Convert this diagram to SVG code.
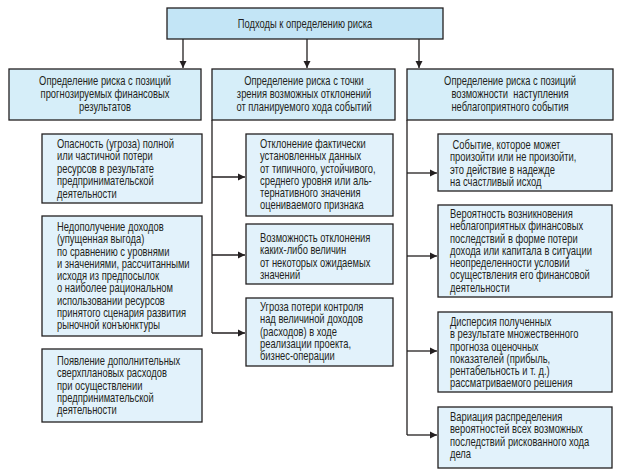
<svg xmlns="http://www.w3.org/2000/svg" width="618" height="473" viewBox="0 0 618 473">
<defs>
<marker id="ah" markerWidth="8" markerHeight="8" refX="7" refY="4" orient="auto" markerUnits="userSpaceOnUse">
<path d="M0,0.5 L7,4 L0,7.5 Z" fill="#231f20"/>
</marker>
</defs>
<style>
.bg{fill:#ffffff}
.top{fill:#c3e5f6;stroke:#231f20;stroke-width:1.3}
.l1{fill:#d6eef9;stroke:#231f20;stroke-width:1.3}
.ch{fill:#e2f2fb;stroke:#231f20;stroke-width:1.3}
text{font-family:"Liberation Sans",Arial,sans-serif;font-size:12.5px;fill:#231f20}
.c{text-anchor:middle}
.con{fill:none;stroke:#231f20;stroke-width:1.3}
</style>
<rect class="bg" x="0" y="0" width="618" height="473"/>
<g id="connectors">
<path class="con" d="M183,39 V68" marker-end="url(#ah)"/>
<path class="con" d="M307,39 V68" marker-end="url(#ah)"/>
<path class="con" d="M419,39 V68" marker-end="url(#ah)"/>
<path class="con" d="M212,120 V333"/>
<path class="con" d="M212,177 H245" marker-end="url(#ah)"/>
<path class="con" d="M212,255 H245" marker-end="url(#ah)"/>
<path class="con" d="M212,333 H245" marker-end="url(#ah)"/>
<path class="con" d="M407,120 V435"/>
<path class="con" d="M407,173 H437" marker-end="url(#ah)"/>
<path class="con" d="M407,256 H437" marker-end="url(#ah)"/>
<path class="con" d="M407,351 H437" marker-end="url(#ah)"/>
<path class="con" d="M407,435 H437" marker-end="url(#ah)"/>
</g>
<g id="root">
<rect class="top" x="167" y="8" width="276" height="31"/>
<g transform="translate(305,0) scale(0.75,1)"><text class="c" x="0" y="28">Подходы к определению риска</text></g>
</g>
<g id="a1">
<rect class="l1" x="9" y="69" width="192" height="51"/>
<g transform="translate(105,0) scale(0.75,1)">
<text class="c" x="0" y="85">Определение риска с позиций</text>
<text class="c" x="0" y="98">прогнозируемых финансовых</text>
<text class="c" x="0" y="111">результатов</text>
</g>
</g>
<g id="a2">
<rect class="l1" x="212" y="69" width="183" height="51"/>
<g transform="translate(304,0) scale(0.75,1)">
<text class="c" x="0" y="85">Определение риска с точки</text>
<text class="c" x="0" y="98">зрения возможных отклонений</text>
<text class="c" x="0" y="111">от планируемого хода событий</text>
</g>
</g>
<g id="a3">
<rect class="l1" x="407" y="69" width="206" height="51"/>
<g transform="translate(510,0) scale(0.75,1)">
<text class="c" x="0" y="85">Определение риска с позиций</text>
<text class="c" x="0" y="98" xml:space="preserve">возможности  наступления</text>
<text class="c" x="0" y="111">неблагоприятного события</text>
</g>
</g>
<g id="l1">
<rect class="ch" x="42" y="134" width="160" height="69"/>
<g transform="translate(57,0) scale(0.75,1)">
<text x="0" y="148">Опасность (угроза) полной</text>
<text x="0" y="160.5">или частичной потери</text>
<text x="0" y="173">ресурсов в результате</text>
<text x="0" y="185.5">предпринимательской</text>
<text x="0" y="198">деятельности</text>
</g>
</g>
<g id="l2">
<rect class="ch" x="42" y="216" width="160" height="120"/>
<g transform="translate(57,0) scale(0.75,1)">
<text x="0" y="231">Недополучение доходов</text>
<text x="0" y="243.3">(упущенная выгода)</text>
<text x="0" y="255.6">по сравнению с уровнями</text>
<text x="0" y="267.9">и значениями, рассчитанными</text>
<text x="0" y="280.2">исходя из предпосылок</text>
<text x="0" y="292.5">о наиболее рациональном</text>
<text x="0" y="304.8">использовании ресурсов</text>
<text x="0" y="317.1">принятого сценария развития</text>
<text x="0" y="329.4">рыночной конъюнктуры</text>
</g>
</g>
<g id="l3">
<rect class="ch" x="42" y="349" width="160" height="73"/>
<g transform="translate(57,0) scale(0.75,1)">
<text x="0" y="365">Появление дополнительных</text>
<text x="0" y="377.3">сверхплановых расходов</text>
<text x="0" y="389.6">при осуществлении</text>
<text x="0" y="401.9">предпринимательской</text>
<text x="0" y="414.2">деятельности</text>
</g>
</g>
<g id="m1">
<rect class="ch" x="246" y="134" width="147" height="82"/>
<g transform="translate(260,0) scale(0.75,1)">
<text x="0" y="148">Отклонение фактически</text>
<text x="0" y="160.3">установленных данных</text>
<text x="0" y="172.6">от типичного, устойчивого,</text>
<text x="0" y="184.9">среднего уровня или аль-</text>
<text x="0" y="197.2">тернативного значения</text>
<text x="0" y="209.5">оцениваемого признака</text>
</g>
</g>
<g id="m2">
<rect class="ch" x="246" y="224" width="147" height="60"/>
<g transform="translate(260,0) scale(0.75,1)">
<text x="0" y="242">Возможность отклонения</text>
<text x="0" y="254.3">каких-либо величин</text>
<text x="0" y="266.6">от некоторых ожидаемых</text>
<text x="0" y="278.9">значений</text>
</g>
</g>
<g id="m3">
<rect class="ch" x="246" y="298" width="147" height="68"/>
<g transform="translate(260,0) scale(0.75,1)">
<text x="0" y="311">Угроза потери контроля</text>
<text x="0" y="323.3">над величиной доходов</text>
<text x="0" y="335.6">(расходов) в ходе</text>
<text x="0" y="347.9">реализации проекта,</text>
<text x="0" y="360.2">бизнес-операции</text>
</g>
</g>
<g id="r1">
<rect class="ch" x="438" y="134" width="174" height="57"/>
<g transform="translate(450,0) scale(0.75,1)">
<text x="0" y="149" xml:space="preserve"> Событие, которое может</text>
<text x="0" y="161.3">произойти или не произойти,</text>
<text x="0" y="173.6">это действие в надежде</text>
<text x="0" y="185.9">на счастливый исход</text>
</g>
</g>
<g id="r2">
<rect class="ch" x="438" y="205" width="174" height="92"/>
<g transform="translate(450,0) scale(0.75,1)">
<text x="0" y="218">Вероятность возникновения</text>
<text x="0" y="230.3">неблагоприятных финансовых</text>
<text x="0" y="242.6">последствий в форме потери</text>
<text x="0" y="254.9">дохода или капитала в ситуации</text>
<text x="0" y="267.2">неопределенности условий</text>
<text x="0" y="279.5">осуществления его финансовой</text>
<text x="0" y="291.8">деятельности</text>
</g>
</g>
<g id="r3">
<rect class="ch" x="438" y="312" width="174" height="80"/>
<g transform="translate(450,0) scale(0.75,1)">
<text x="0" y="326">Дисперсия полученных</text>
<text x="0" y="338.3">в результате множественного</text>
<text x="0" y="350.6">прогноза оценочных</text>
<text x="0" y="362.9">показателей (прибыль,</text>
<text x="0" y="375.2">рентабельность и т. д.)</text>
<text x="0" y="387.5">рассматриваемого решения</text>
</g>
</g>
<g id="r4">
<rect class="ch" x="438" y="407" width="174" height="61"/>
<g transform="translate(450,0) scale(0.75,1)">
<text x="0" y="421">Вариация распределения</text>
<text x="0" y="433.3">вероятностей всех возможных</text>
<text x="0" y="445.6">последствий рискованного хода</text>
<text x="0" y="457.9">дела</text>
</g>
</g>
</svg>
